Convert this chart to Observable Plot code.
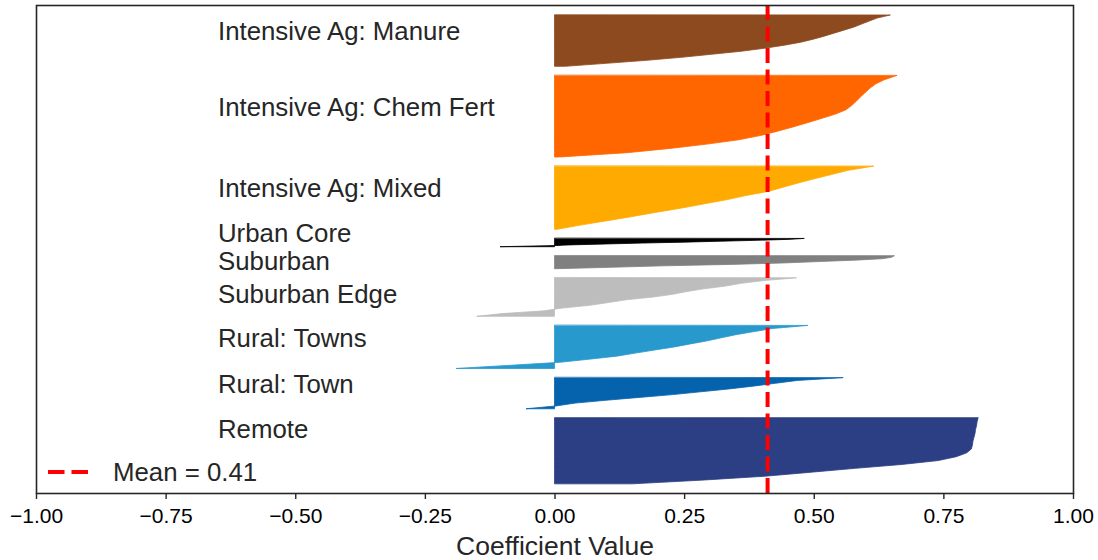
<!DOCTYPE html>
<html>
<head>
<meta charset="utf-8">
<script src="https://cdn.jsdelivr.net/npm/d3@7"></script>
<script src="https://cdn.jsdelivr.net/npm/@observablehq/plot@0.6"></script>
<style>
  html, body { margin: 0; padding: 0; background: #fff; }
  #chart svg { display: block; }
</style>
</head>
<body>
<div id="chart"></div>
<script>
// Land-use clusters, listed top to bottom as they appear in the plot
const clusterNames = [
  "Intensive Ag: Manure",
  "Intensive Ag: Chem Fert",
  "Intensive Ag: Mixed",
  "Urban Core",
  "Suburban",
  "Suburban Edge",
  "Rural: Towns",
  "Rural: Town",
  "Remote"
];
// Number of members in each cluster (rows of the silhouette band)
const clusterSizes = [56, 89, 69, 9, 14, 42, 47, 34, 72];
const clusterColors = [
  "#8E4A1F", "#FF6600", "#FFAA00", "#000000", "#808080",
  "#BDBDBD", "#2899CC", "#0563AE", "#2C3F84"
];

// Silhouette coefficients sorted from highest to lowest, sampled evenly by rank
const manure = [0.647, 0.622, 0.607, 0.592, 0.577, 0.558, 0.539, 0.520, 0.499, 0.475, 0.443, 0.405, 0.360, 0.303, 0.245, 0.178, 0.100, 0.020];
const chemFert = [0.660, 0.636, 0.619, 0.608, 0.599, 0.590, 0.582, 0.573, 0.562, 0.542, 0.515, 0.488, 0.460, 0.430, 0.397, 0.355, 0.294, 0.223, 0.140, 0.010];
const mixed = [0.615, 0.566, 0.534, 0.501, 0.470, 0.441, 0.412, 0.369, 0.331, 0.287, 0.243, 0.194, 0.148, 0.099, 0.050, 0.005];
const urbanCore = [0.481, 0.450, 0.390, 0.320, 0.250, 0.170, 0.100, 0.030, -0.020, -0.105];
const suburban = [0.655, 0.650, 0.632, 0.580, 0.510, 0.440, 0.340, 0.210, 0.110, 0.005];
const suburbanEdge = [0.466, 0.404, 0.360, 0.330, 0.288, 0.255, 0.228, 0.190, 0.138, 0.104, 0.068, 0.015, -0.020, -0.100, -0.150];
const ruralTowns = [0.488, 0.420, 0.385, 0.350, 0.322, 0.295, 0.262, 0.231, 0.193, 0.156, 0.120, 0.066, 0.010, -0.090, -0.190];
const ruralTown = [0.556, 0.468, 0.426, 0.383, 0.336, 0.282, 0.228, 0.163, 0.099, 0.040, 0.003, -0.055];
const remote = [0.817, 0.815, 0.814, 0.812, 0.811, 0.809, 0.807, 0.806, 0.804, 0.795, 0.775, 0.740, 0.670, 0.580, 0.495, 0.410, 0.290, 0.150];
const clusterValues = [manure, chemFert, mixed, urbanCore, suburban, suburbanEdge, ruralTowns, ruralTown, remote];

const meanCoefficient = 0.41;
const xTicks = [-1, -0.75, -0.5, -0.25, 0, 0.25, 0.5, 0.75, 1];

// Stack the bands bottom-up, leaving a 10-row gap between clusters
const gap = 10;
const bands = [];
let lower = gap;
for (let i = clusterNames.length - 1; i >= 0; i--) {
  bands[i] = {name: clusterNames[i], lower, upper: lower + clusterSizes[i]};
  lower += clusterSizes[i] + gap;
}
const yMax = lower + 1;

// One row per sampled coefficient, spread over the band's height
const rows = [];
bands.forEach((b, i) => {
  const vals = clusterValues[i];
  const n = vals.length;
  vals.forEach((v, k) => {
    rows.push({cluster: b.name, v, y: b.upper - (k / (n - 1)) * (b.upper - b.lower)});
  });
});

// Cluster names sit just above each band's centre line; a few are nudged
const labelNudge = {"Suburban": -8.6, "Suburban Edge": -6.7, "Remote": 14};
const labels = bands.map(b => ({
  name: b.name,
  y: (b.lower + b.upper) / 2 + 10 + (labelNudge[b.name] || 0)
}));

const font = "'Liberation Sans', Arial, Helvetica, sans-serif";

const chart = Plot.plot({
  width: 1098,
  height: 560,
  marginLeft: 36,
  marginRight: 25,
  marginTop: 5,
  marginBottom: 67,
  style: {fontFamily: font, fontSize: "21px", background: "#fff", color: "#000"},
  x: {domain: [-1, 1]},
  y: {domain: [0, yMax], axis: null},
  color: {domain: clusterNames, range: clusterColors},
  marks: [
    Plot.areaX(rows, {x1: 0, x2: "v", y: "y", z: "cluster", fill: "cluster", stroke: "cluster", strokeWidth: 0.8, curve: "linear"}),
    Plot.ruleX([meanCoefficient], {stroke: "#FF0000", strokeWidth: 4, strokeDasharray: "15,6.5"}),
    Plot.text(labels, {x: -0.65, y: "y", text: "name", textAnchor: "start", fontSize: 25.8, fill: "#262626"}),
    Plot.axisX(xTicks, {tickSize: 6, tickPadding: 9, tickFormat: d3.format(".2f"), stroke: "#262626", strokeWidth: 1.4, fill: "#000", label: null}),
    Plot.text(["Coefficient Value"], {x: 0, frameAnchor: "bottom", lineAnchor: "middle", dy: 53, text: d => d, fontSize: 26.5, fill: "#262626"}),
    Plot.frame({stroke: "#262626", strokeWidth: 1.6})
  ]
});

// Legend for the mean line, placed inside the lower-left corner of the frame
const svg = d3.select(chart);
const legend = svg.append("g").attr("aria-label", "legend");
legend.append("line")
  .attr("x1", 48).attr("x2", 88).attr("y1", 472).attr("y2", 472)
  .attr("stroke", "#FF0000").attr("stroke-width", 4).attr("stroke-dasharray", "16.5,7");
legend.append("text")
  .attr("x", 113).attr("y", 472).attr("dy", "0.35em")
  .attr("text-anchor", "start")
  .attr("font-size", 25.8).attr("fill", "#262626")
  .text(`Mean = ${meanCoefficient}`);

document.getElementById("chart").appendChild(chart);
</script>
</body>
</html>
